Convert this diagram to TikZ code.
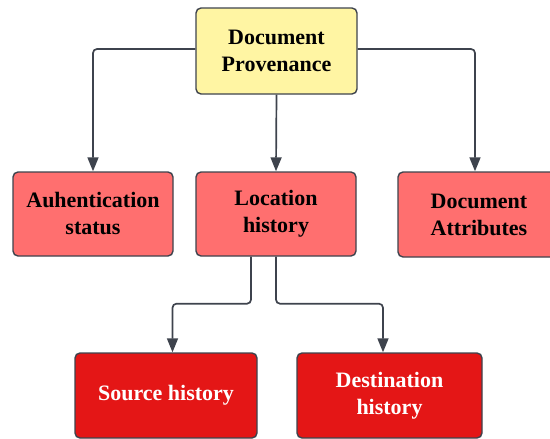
\documentclass[tikz,border=0pt]{standalone}
\usepackage{fontspec}
\setmainfont{Liberation Serif}
\usetikzlibrary{arrows.meta}
\definecolor{edgegray}{HTML}{3E434D}
\definecolor{boxyellow}{HTML}{FFF5A3}
\definecolor{boxpink}{HTML}{FF6F6F}
\definecolor{boxred}{HTML}{E41616}
\tikzset{
  box/.style={draw=edgegray, line width=1.4pt, rounded corners=5pt, align=center,
    font=\fontsize{22}{27}\selectfont\bfseries, inner sep=0pt},
  ybox/.style={box, fill=boxyellow},
  pbox/.style={box, fill=boxpink},
  rbox/.style={box, fill=boxred, text=white},
  arr/.style={draw=edgegray, line width=1.7pt, rounded corners=4pt,
    -{Triangle[length=14pt,width=11pt]}}
}
\begin{document}
\begin{tikzpicture}[x=1pt,y=-1pt]
\useasboundingbox (0,0) rectangle (550,439);
\clip (0,0) rectangle (550,439);
\node[ybox, minimum width=161pt, minimum height=86pt] (top) at (276.5,51) {Document\\Provenance};
\node[pbox, minimum width=160pt, minimum height=84pt] (auth) at (93,214) {Auhentication\\status};
\node[pbox, minimum width=160pt, minimum height=84pt] (loc) at (276,214) {Location\\history};
\node[pbox, minimum width=162pt, minimum height=85pt] (attr) at (479,214.5) {Document\\Attributes};
\node[rbox, minimum width=182pt, minimum height=85pt] (src) at (166,395.5) {Source history};
\node[rbox, minimum width=185pt, minimum height=85pt] (dst) at (389.5,395.5) {Destination\\history};
\draw[arr] ([yshift=2pt]top.west) -| (auth.north);
\draw[arr] (top.south) -- (loc.north);
\draw[arr] ([yshift=2pt]top.east) -| ([xshift=-4pt]attr.north);
\draw[arr] ([xshift=-25pt]loc.south) -- ++(0,47) -| ([xshift=6.5pt]src.north);
\draw[arr] (loc.south) -- ++(0,47) -| ([xshift=-6.5pt]dst.north);
\end{tikzpicture}
\end{document}
